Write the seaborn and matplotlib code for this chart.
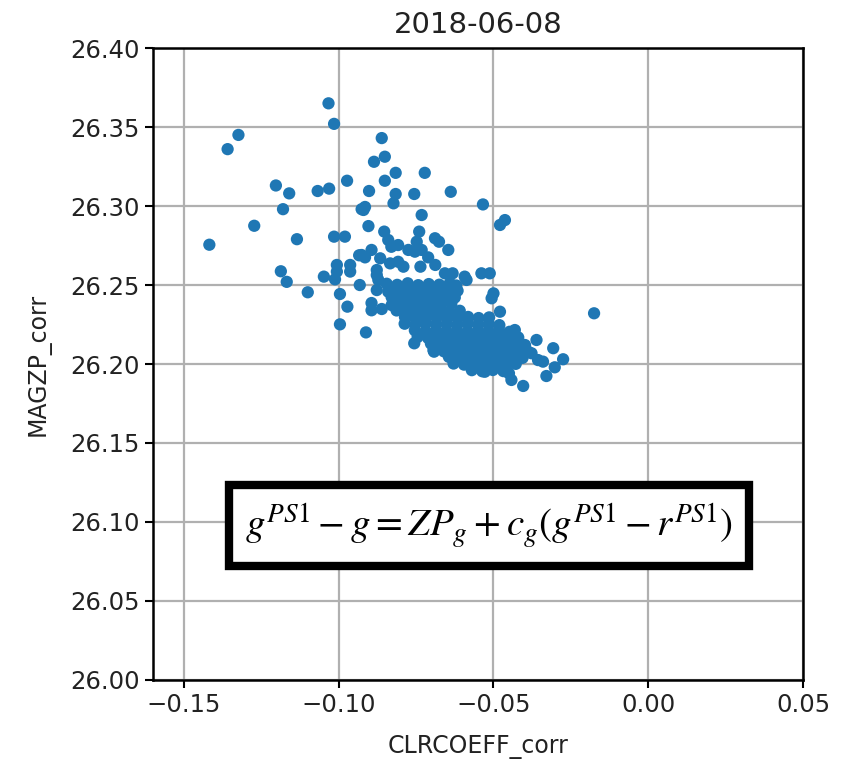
import matplotlib
matplotlib.use("Agg")
import matplotlib.pyplot as plt
import numpy as np
import pandas as pd
import seaborn as sns

# ---------------- data ----------------
title = "2018-06-08"
x_label = "CLRCOEFF_corr"
y_label = "MAGZP_corr"
x_ticks = [-0.15, -0.10, -0.05, 0.00, 0.05]
x_tick_labels = ["\u22120.15", "\u22120.10", "\u22120.05", "0.00", "0.05"]
y_ticks = [26.00, 26.05, 26.10, 26.15, 26.20, 26.25, 26.30, 26.35, 26.40]
y_tick_labels = ["26.00", "26.05", "26.10", "26.15", "26.20", "26.25", "26.30", "26.35", "26.40"]
equation = r"$g^{PS1} - g = ZP_g + c_g(g^{PS1} - r^{PS1})$"

# scattered outer points
outer_x = [-0.1418, -0.1359, -0.1324, -0.1273, -0.1203, -0.1187, -0.1180, -0.1168, -0.1160, -0.1135,
           -0.1100, -0.1068, -0.1048, -0.1033, -0.1031, -0.1015, -0.1015, -0.1012, -0.1006, -0.1006,
           -0.0996, -0.0996, -0.0980, -0.0973, -0.0972, -0.0963, -0.0963, -0.0934, -0.0932, -0.0926,
           -0.0926, -0.0920, -0.0915, -0.0915, -0.0912, -0.0904, -0.0902, -0.0894, -0.0894, -0.0894,
           -0.0877, -0.0877, -0.0866, -0.0861, -0.0853, -0.0851, -0.0840, -0.0840, -0.0834, -0.0830,
           -0.0829, -0.0823, -0.0816, -0.0816, -0.0808, -0.0808, -0.0791, -0.0775, -0.0756, -0.0756,
           -0.0754, -0.0748, -0.0740, -0.0736, -0.0732, -0.0732, -0.0722, -0.0711, -0.0692, -0.0689,
           -0.0688, -0.0676, -0.0657, -0.0646, -0.0638, -0.0632, -0.0625, -0.0593, -0.0539, -0.0534,
           -0.0512, -0.0506, -0.0500, -0.0479, -0.0479, -0.0463, -0.0431, -0.0414, -0.0410, -0.0404,
           -0.0377, -0.0361, -0.0356, -0.0340, -0.0329, -0.0307, -0.0302, -0.0275, -0.0175, -0.0442,
           -0.0450, -0.0550, -0.0528, -0.0560, -0.0861, -0.0851, -0.0886, -0.0872, -0.0877, -0.0587]
outer_y = [26.2755, 26.3360, 26.3450, 26.2875, 26.3130, 26.2587, 26.2980, 26.2520, 26.3080, 26.2790,
           26.2454, 26.3095, 26.2553, 26.3650, 26.3110, 26.3520, 26.2806, 26.2536, 26.2627, 26.2585,
           26.2443, 26.2251, 26.2806, 26.3160, 26.2363, 26.2627, 26.2585, 26.2688, 26.2500, 26.2980,
           26.2690, 26.2975, 26.2994, 26.2675, 26.2200, 26.2873, 26.3095, 26.2722, 26.2386, 26.2340,
           26.2595, 26.2563, 26.2669, 26.2348, 26.2838, 26.3160, 26.2785, 26.2458, 26.2637, 26.2742,
           26.2373, 26.3017, 26.3076, 26.3210, 26.2753, 26.2647, 26.2616, 26.2722, 26.3076, 26.2131,
           26.2711, 26.2774, 26.2838, 26.2616, 26.2943, 26.2722, 26.3210, 26.2675, 26.2078, 26.2796,
           26.2627, 26.2774, 26.2574, 26.2722, 26.3090, 26.2574, 26.2030, 26.2553, 26.2574, 26.3010,
           26.2574, 26.2416, 26.2447, 26.2331, 26.2880, 26.2911, 26.2215, 26.2131, 26.2068, 26.1861,
           26.2068, 26.2152, 26.2025, 26.2015, 26.1924, 26.2100, 26.1979, 26.2030, 26.2321, 26.1899,
           26.1941, 26.1983, 26.1951, 26.1994, 26.3430, 26.3312, 26.3280, 26.2532, 26.2468, 26.2532]

# dense core of the cloud
core_x = [-0.0845, -0.0811, -0.0777, -0.0743, -0.0709, -0.0675, -0.0641, -0.0620,
          -0.0820, -0.0786, -0.0752, -0.0718, -0.0684, -0.0650, -0.0616,
          -0.0829, -0.0795, -0.0761, -0.0727, -0.0693, -0.0659, -0.0625,
          -0.0806, -0.0772, -0.0738, -0.0704, -0.0670, -0.0636,
          -0.0813, -0.0779, -0.0745, -0.0711, -0.0677, -0.0643, -0.0609,
          -0.0786, -0.0752, -0.0718, -0.0684, -0.0650, -0.0616, -0.0582, -0.0548, -0.0514,
          -0.0787, -0.0753, -0.0719, -0.0685, -0.0651, -0.0617, -0.0583, -0.0549, -0.0515, -0.0481,
          -0.0754, -0.0720, -0.0686, -0.0652, -0.0618, -0.0584, -0.0550, -0.0516, -0.0482, -0.0448,
          -0.0745, -0.0711, -0.0677, -0.0643, -0.0609, -0.0575, -0.0541, -0.0507, -0.0473, -0.0439, -0.0420,
          -0.0702, -0.0668, -0.0634, -0.0600, -0.0566, -0.0532, -0.0498, -0.0464, -0.0430, -0.0398,
          -0.0694, -0.0660, -0.0626, -0.0592, -0.0558, -0.0524, -0.0490, -0.0456, -0.0422, -0.0388,
          -0.0644, -0.0610, -0.0576, -0.0542, -0.0508, -0.0474, -0.0440, -0.0406,
          -0.0629, -0.0595, -0.0561, -0.0527, -0.0493, -0.0459, -0.0428,
          -0.0570, -0.0536, -0.0502, -0.0468]
core_y = [26.2508, 26.2501, 26.2511, 26.2499, 26.2506, 26.2502, 26.2512, 26.2497,
          26.2465, 26.2458, 26.2468, 26.2460, 26.2466, 26.2457, 26.2464,
          26.2423, 26.2416, 26.2426, 26.2418, 26.2424, 26.2415, 26.2421,
          26.2375, 26.2382, 26.2374, 26.2380, 26.2376, 26.2383,
          26.2339, 26.2332, 26.2341, 26.2334, 26.2338, 26.2331, 26.2337,
          26.2297, 26.2290, 26.2299, 26.2292, 26.2296, 26.2289, 26.2298, 26.2291, 26.2295,
          26.2255, 26.2248, 26.2257, 26.2250, 26.2254, 26.2247, 26.2256, 26.2249, 26.2253, 26.2246,
          26.2213, 26.2206, 26.2215, 26.2208, 26.2212, 26.2205, 26.2214, 26.2207, 26.2211, 26.2204,
          26.2171, 26.2164, 26.2173, 26.2166, 26.2170, 26.2163, 26.2172, 26.2165, 26.2169, 26.2162, 26.2168,
          26.2129, 26.2122, 26.2131, 26.2124, 26.2128, 26.2121, 26.2130, 26.2123, 26.2127, 26.2120,
          26.2087, 26.2080, 26.2089, 26.2082, 26.2086, 26.2079, 26.2088, 26.2081, 26.2085, 26.2078,
          26.2045, 26.2038, 26.2047, 26.2040, 26.2044, 26.2037, 26.2046, 26.2039,
          26.2003, 26.1996, 26.2005, 26.1998, 26.2002, 26.1995, 26.2001,
          26.1961, 26.1954, 26.1962, 26.1955]

df = pd.DataFrame({x_label: outer_x + core_x, y_label: outer_y + core_y})

# ---------------- styling ----------------
sns.set_style("ticks", {"axes.grid": True, "grid.color": "#b0b0b0",
                        "axes.edgecolor": "black", "xtick.color": "black",
                        "ytick.color": "black", "text.color": "#222222",
                        "axes.labelcolor": "#222222"})
plt.rcParams["font.family"] = ["DejaVu Sans"]
plt.rcParams["mathtext.fontset"] = "stix"

fig = plt.figure(figsize=(8.44, 7.66), dpi=100)
ax = fig.add_axes([0.1813, 0.1123, 0.7701, 0.825])

sns.scatterplot(data=df, x=x_label, y=y_label, s=78, color="#1f77b4",
                linewidth=0, edgecolor="none", ax=ax, zorder=3)

ax.set_xlim(-0.16, 0.05)
ax.set_ylim(26.0, 26.4)
ax.set_xticks(x_ticks)
ax.set_xticklabels(x_tick_labels)
ax.set_yticks(y_ticks)
ax.set_yticklabels(y_tick_labels)
ax.grid(True, color="#b0b0b0", linewidth=1.6)
ax.set_axisbelow(True)
for sp in ax.spines.values():
    sp.set_linewidth(1.8)
    sp.set_color("black")
ax.tick_params(axis="both", labelsize=17.5, length=6, width=1.5, labelcolor="#222222", color="black")

ax.set_title(title, fontsize=21, pad=11, color="#222222")
ax.set_xlabel(x_label, fontsize=17, labelpad=13)
ax.set_ylabel(y_label, fontsize=17, labelpad=14)

ax.text(0.517, 0.2445, equation, transform=ax.transAxes, ha="center", va="center",
        fontsize=28, color="black", zorder=5,
        bbox=dict(boxstyle="square,pad=0.42", facecolor="white", edgecolor="black", linewidth=6))

fig.savefig("out.png", dpi=100)
